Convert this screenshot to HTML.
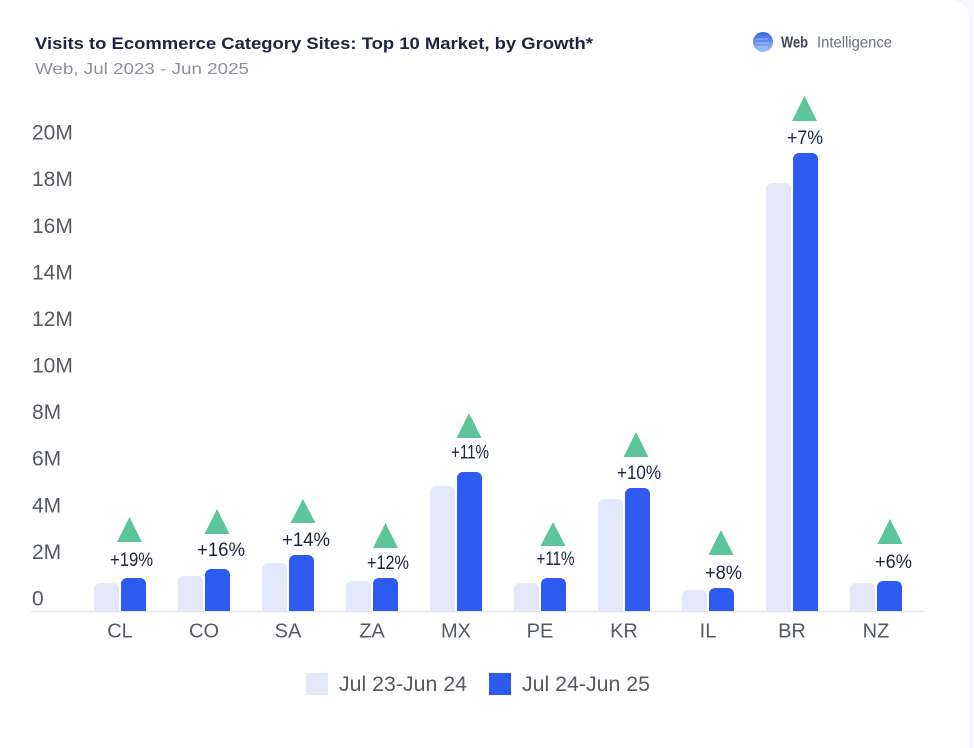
<!DOCTYPE html>
<html>
<head>
<meta charset="utf-8">
<style>
  html,body{margin:0;padding:0;background:#f6f7fb;}
  body{width:974px;height:748px;overflow:hidden;}
  svg{display:block;overflow:hidden;font-family:"Liberation Sans",sans-serif;}
</style>
</head>
<body>
<svg width="974" height="748" viewBox="0 0 974 748" xmlns="http://www.w3.org/2000/svg">
  <defs>
    <linearGradient id="lg" x1="0" y1="0" x2="0" y2="1">
      <stop offset="0" stop-color="#2f5fe8"/>
      <stop offset="1" stop-color="#9cc4f5"/>
    </linearGradient>
  </defs>
  <path d="M0 0 H952 A17 17 0 0 1 969 17 V748 H0 Z" fill="#ffffff"/>

  <!-- Header -->
  <text x="35" y="49" font-size="17" font-weight="bold" fill="#1c2541" textLength="558" lengthAdjust="spacingAndGlyphs">Visits to Ecommerce Category Sites: Top 10 Market, by Growth*</text>
  <text x="35" y="74" font-size="16" fill="#8b9099" textLength="214" lengthAdjust="spacingAndGlyphs">Web, Jul 2023 - Jun 2025</text>

  <!-- Logo -->
  <circle cx="763" cy="42" r="10" fill="url(#lg)"/>
  <path d="M756 39 h12 M756 43 h13 M757 47 h11" stroke="#ffffff" stroke-opacity="0.45" stroke-width="1"/>
  <text x="781" y="47.5" font-size="16" font-weight="bold" fill="#3f4654" textLength="27" lengthAdjust="spacingAndGlyphs">Web</text>
  <text x="817" y="47.5" font-size="16" fill="#6b7280" textLength="75" lengthAdjust="spacingAndGlyphs">Intelligence</text>

  <!-- Y axis labels -->
  <g font-size="21" fill="#555a60">
    <text x="32" y="605.5">0</text>
    <text x="32" y="559">2M</text>
    <text x="32" y="512.5">4M</text>
    <text x="32" y="465.5">6M</text>
    <text x="32" y="419">8M</text>
    <text x="32" y="372.5">10M</text>
    <text x="32" y="326">12M</text>
    <text x="32" y="279.5">14M</text>
    <text x="32" y="233">16M</text>
    <text x="32" y="186">18M</text>
    <text x="32" y="139.5">20M</text>
  </g>

  <!-- Axis line -->
  <line x1="31" y1="611.5" x2="924" y2="611.5" stroke="#e6e8ee" stroke-width="1.5"/>

  <!-- Bars -->
  <g fill="#e3e9fa">
    <path d="M94 611 V589 a6 6 0 0 1 6 -6 h13 a6 6 0 0 1 6 6 V611 Z"/>
    <path d="M178 611 V582 a6 6 0 0 1 6 -6 h13 a6 6 0 0 1 6 6 V611 Z"/>
    <path d="M262 611 V569 a6 6 0 0 1 6 -6 h13 a6 6 0 0 1 6 6 V611 Z"/>
    <path d="M346 611 V587 a6 6 0 0 1 6 -6 h13 a6 6 0 0 1 6 6 V611 Z"/>
    <path d="M430 611 V492 a6 6 0 0 1 6 -6 h13 a6 6 0 0 1 6 6 V611 Z"/>
    <path d="M514 611 V589 a6 6 0 0 1 6 -6 h13 a6 6 0 0 1 6 6 V611 Z"/>
    <path d="M598 611 V505 a6 6 0 0 1 6 -6 h13 a6 6 0 0 1 6 6 V611 Z"/>
    <path d="M682 611 V596 a6 6 0 0 1 6 -6 h13 a6 6 0 0 1 6 6 V611 Z"/>
    <path d="M766 611 V189 a6 6 0 0 1 6 -6 h13 a6 6 0 0 1 6 6 V611 Z"/>
    <path d="M850 611 V589 a6 6 0 0 1 6 -6 h13 a6 6 0 0 1 6 6 V611 Z"/>
  </g>
  <g fill="#2d5bf2">
    <path d="M121 611 V584 a6 6 0 0 1 6 -6 h13 a6 6 0 0 1 6 6 V611 Z"/>
    <path d="M205 611 V575 a6 6 0 0 1 6 -6 h13 a6 6 0 0 1 6 6 V611 Z"/>
    <path d="M289 611 V561 a6 6 0 0 1 6 -6 h13 a6 6 0 0 1 6 6 V611 Z"/>
    <path d="M373 611 V584 a6 6 0 0 1 6 -6 h13 a6 6 0 0 1 6 6 V611 Z"/>
    <path d="M457 611 V478 a6 6 0 0 1 6 -6 h13 a6 6 0 0 1 6 6 V611 Z"/>
    <path d="M541 611 V584 a6 6 0 0 1 6 -6 h13 a6 6 0 0 1 6 6 V611 Z"/>
    <path d="M625 611 V494 a6 6 0 0 1 6 -6 h13 a6 6 0 0 1 6 6 V611 Z"/>
    <path d="M709 611 V594 a6 6 0 0 1 6 -6 h13 a6 6 0 0 1 6 6 V611 Z"/>
    <path d="M793 611 V159 a6 6 0 0 1 6 -6 h13 a6 6 0 0 1 6 6 V611 Z"/>
    <path d="M877 611 V587 a6 6 0 0 1 6 -6 h13 a6 6 0 0 1 6 6 V611 Z"/>
  </g>

  <!-- Triangles -->
  <g fill="#5cc59c">
    <polygon points="129.5,517 142,542 117,542"/>
    <polygon points="217,509 229.5,534 204.5,534"/>
    <polygon points="303,499 315.5,523 290.5,523"/>
    <polygon points="385.5,523 398,548 373,548"/>
    <polygon points="469,413 481.5,438 456.5,438"/>
    <polygon points="553,522 565.5,546 540.5,546"/>
    <polygon points="636,432 648.5,457 623.5,457"/>
    <polygon points="721,530 733.5,555 708.5,555"/>
    <polygon points="804.5,96 817,121 792,121"/>
    <polygon points="890,519 902.5,544 877.5,544"/>
  </g>

  <!-- Growth labels -->
  <g font-size="19" fill="#1b2540" text-anchor="middle">
    <text x="131.5" y="566" textLength="43" lengthAdjust="spacingAndGlyphs">+19%</text>
    <text x="221" y="556" textLength="48" lengthAdjust="spacingAndGlyphs">+16%</text>
    <text x="306" y="546" textLength="48" lengthAdjust="spacingAndGlyphs">+14%</text>
    <text x="388" y="569" textLength="42" lengthAdjust="spacingAndGlyphs">+12%</text>
    <text x="470" y="458.5" textLength="38" lengthAdjust="spacingAndGlyphs">+11%</text>
    <text x="555.5" y="565" textLength="38" lengthAdjust="spacingAndGlyphs">+11%</text>
    <text x="639" y="479" textLength="44" lengthAdjust="spacingAndGlyphs">+10%</text>
    <text x="723.5" y="579" textLength="37" lengthAdjust="spacingAndGlyphs">+8%</text>
    <text x="805" y="144" textLength="36" lengthAdjust="spacingAndGlyphs">+7%</text>
    <text x="893.5" y="568" textLength="37" lengthAdjust="spacingAndGlyphs">+6%</text>
  </g>

  <!-- Category labels -->
  <g font-size="20" fill="#555a60" text-anchor="middle">
    <text x="120" y="637.5">CL</text>
    <text x="204" y="637.5">CO</text>
    <text x="288" y="637.5">SA</text>
    <text x="372" y="637.5">ZA</text>
    <text x="456" y="637.5">MX</text>
    <text x="540" y="637.5">PE</text>
    <text x="624" y="637.5">KR</text>
    <text x="708" y="637.5">IL</text>
    <text x="792" y="637.5">BR</text>
    <text x="876" y="637.5">NZ</text>
  </g>

  <!-- Legend -->
  <rect x="306" y="673" width="22" height="22" fill="#e3e9fa"/>
  <text x="339" y="691" font-size="21" fill="#555a60" textLength="128" lengthAdjust="spacingAndGlyphs">Jul 23-Jun 24</text>
  <rect x="489" y="673" width="22" height="22" fill="#2d5bf2"/>
  <text x="522" y="691" font-size="21" fill="#555a60" textLength="128" lengthAdjust="spacingAndGlyphs">Jul 24-Jun 25</text>
</svg>
</body>
</html>
